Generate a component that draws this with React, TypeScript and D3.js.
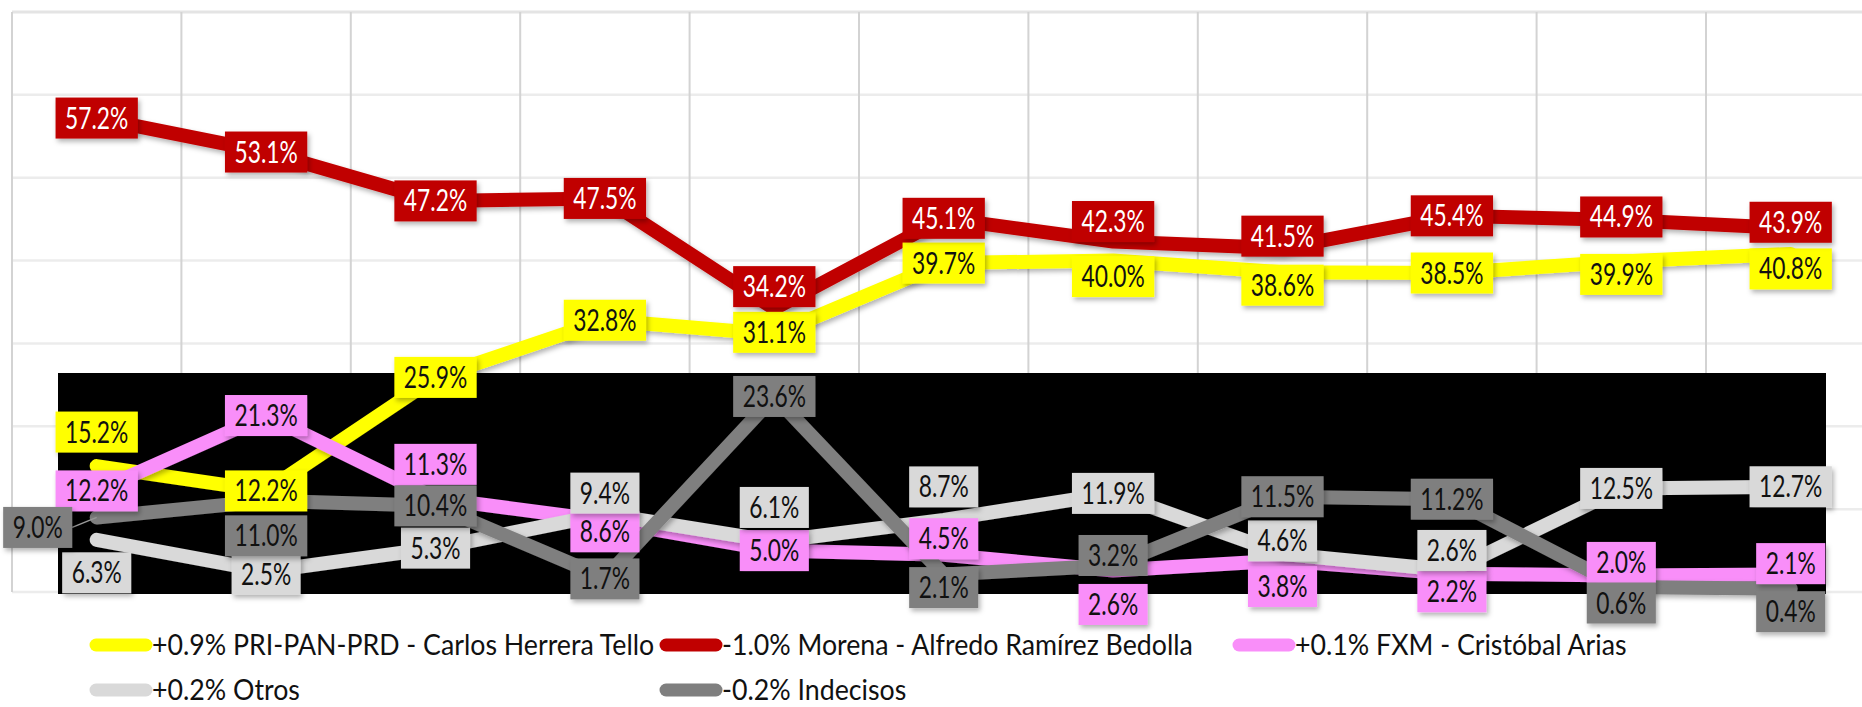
import React, { useEffect, useRef } from "react";
import * as d3 from "d3";

// ---- data ----
const categories = ["E1", "E2", "E3", "E4", "E5", "E6", "E7", "E8", "E9", "E10", "E11"];
const priPanPrd = [15.2, 12.2, 25.9, 32.8, 31.1, 39.7, 40.0, 38.6, 38.5, 39.9, 40.8];
const morena = [57.2, 53.1, 47.2, 47.5, 34.2, 45.1, 42.3, 41.5, 45.4, 44.9, 43.9];
const fxm = [12.2, 21.3, 11.3, 8.6, 5.0, 4.5, 2.6, 3.8, 2.2, 2.0, 2.1];
const otros = [6.3, 2.5, 5.3, 9.4, 6.1, 8.7, 11.9, 4.6, 2.6, 12.5, 12.7];
const indecisos = [9.0, 11.0, 10.4, 1.7, 23.6, 2.1, 3.2, 11.5, 11.2, 0.6, 0.4];
const seriesNames = [
  "PRI-PAN-PRD - Carlos Herrera Tello",
  "Morena - Alfredo Ramírez Bedolla",
  "FXM - Cristóbal Arias",
  "Otros",
  "Indecisos",
];
const seriesChanges = ["+0.9%", "-1.0%", "+0.1%", "+0.2%", "-0.2%"];
const yTicks = [0, 10, 20, 30, 40, 50, 60, 70];

// ---- layout / style (not data) ----
const W = 1862;
const H = 707;
const PLOT_LEFT = 12;
const BAND = 169.4;
const PLOT_TOP = 12;
const PLOT_BOTTOM = 592;

const colors = ["#ffff00", "#c00000", "#f98ef9", "#d9d9d9", "#7f7f7f"];
const labelTextColors = ["#111", "#fff", "#111", "#111", "#111"];
// vertical nudges of the data labels (px) as placed in the original chart
const labelNudgeY = [
  [-34, 0, 0, 0, -2, 0, 16, 13, 0, 13, 15],
  [0, 0, 0, 0, -22, 0, -20, -12, 0, -3, -6],
  [0, 0, -34, 11, 0, -16, 34, 26, 18, -13, -11],
  [33, 3, 0, -21, -34, -33, 0, -13, -20, 0, 0],
  [10, 35, 0, 1, 0, 13, -10, 0, 0, 16, 23],
];
const labelNudgeX = [
  [0, 0, 0, 0, 0, 0, 0, 0, 0, 0, 0],
  [0, 0, 0, 0, 0, 0, 0, 0, 0, 0, 0],
  [0, 0, 0, 0, 0, 0, 0, 0, 0, 0, 0],
  [0, 0, 0, 0, 0, 0, 0, 0, 0, 0, 0],
  [-59, 0, 0, 0, 0, 0, 0, 0, 0, 0, 0],
];

const FONT = "Lato, 'Open Sans', 'DejaVu Sans', sans-serif";
const SX = 0.76;
const LABEL_FS = 30;

export default function App() {
  const ref = useRef<SVGSVGElement | null>(null);

  useEffect(() => {
    document.body.style.margin = "0";
    const svg = d3.select(ref.current);
    svg.selectAll("*").remove();

    const series = [priPanPrd, morena, fxm, otros, indecisos];

    const x = d3
      .scaleBand<string>()
      .domain(categories)
      .range([PLOT_LEFT, PLOT_LEFT + BAND * categories.length]);
    const y = d3.scaleLinear().domain([0, 70]).range([PLOT_BOTTOM, PLOT_TOP]);
    const cx = (c: string) => (x(c) as number) + x.bandwidth() / 2;

    const defs = svg.append("defs");
    const f = defs
      .append("filter")
      .attr("id", "sh")
      .attr("x", "-20%")
      .attr("y", "-50%")
      .attr("width", "140%")
      .attr("height", "200%");
    f.append("feDropShadow")
      .attr("dx", 2)
      .attr("dy", 3)
      .attr("stdDeviation", 2.5)
      .attr("flood-color", "#000")
      .attr("flood-opacity", 0.3);

    svg.append("rect").attr("width", W).attr("height", H).attr("fill", "#fff");

    // gridlines
    const g = svg.append("g");
    g.selectAll("line.h")
      .data(yTicks)
      .join("line")
      .attr("x1", PLOT_LEFT)
      .attr("x2", W)
      .attr("y1", (d) => y(d))
      .attr("y2", (d) => y(d))
      .attr("stroke", (d) => (d === 70 ? "#e4e4e4" : "#ececec"))
      .attr("stroke-width", (d) => (d === 70 ? 3 : 2.5));
    const vlines = categories.map((c) => x(c) as number).concat([x.range()[1]]);
    g.selectAll("line.v")
      .data(vlines)
      .join("line")
      .attr("x1", (d) => d)
      .attr("x2", (d) => d)
      .attr("y1", PLOT_TOP)
      .attr("y2", PLOT_BOTTOM)
      .attr("stroke", "#d3d3d3")
      .attr("stroke-width", 2);

    // black overlay block
    svg
      .append("rect")
      .attr("x", 58)
      .attr("y", 373)
      .attr("width", 1826 - 58)
      .attr("height", 594 - 373)
      .attr("fill", "#000");

    // lines
    const line = d3
      .line<number>()
      .x((_, i) => cx(categories[i]))
      .y((d) => y(d));
    series.forEach((s, si) => {
      svg
        .append("path")
        .attr("d", line(s) as string)
        .attr("fill", "none")
        .attr("stroke", colors[si])
        .attr("stroke-width", 14)
        .attr("stroke-linecap", "round")
        .attr("stroke-linejoin", "round")
        .attr("filter", "url(#sh)");
    });

    // data labels
    const labelsG = svg.append("g");
    series.forEach((s, si) => {
      s.forEach((v, i) => {
        const px = cx(categories[i]);
        const py = y(v);
        const lx = px + labelNudgeX[si][i];
        const ly = py + labelNudgeY[si][i];
        const grp = labelsG.append("g");
        const rect = grp.append("rect");
        const t = grp
          .append("text")
          .attr("transform", `translate(${lx},${ly + 10.5}) scale(${SX},1)`)
          .attr("text-anchor", "middle")
          .attr("font-family", FONT)
          .attr("font-size", LABEL_FS)
          .attr("fill", labelTextColors[si])
          .text(`${v.toFixed(1)}%`);
        const tw = (t.node() as SVGTextElement).getComputedTextLength() * SX;
        const bw = tw + 19;
        rect
          .attr("x", lx - bw / 2)
          .attr("y", ly - 20.5)
          .attr("width", bw)
          .attr("height", 41)
          .attr("fill", colors[si])
          .attr("filter", "url(#sh)");
        if (Math.abs(labelNudgeX[si][i]) > 0) {
          svg
            .insert("line", "g:last-of-type")
            .attr("x1", lx + bw / 2)
            .attr("y1", ly)
            .attr("x2", px)
            .attr("y2", py)
            .attr("stroke", "#9a9a9a")
            .attr("stroke-width", 1.5);
        }
      });
    });

    // legend
    const legendPos = [
      [90, 645],
      [660, 645],
      [1233, 645],
      [90, 690],
      [660, 690],
    ];
    const lg = svg.append("g");
    seriesNames.forEach((name, si) => {
      const [lx, ly] = legendPos[si];
      lg.append("line")
        .attr("x1", lx + 6)
        .attr("x2", lx + 56)
        .attr("y1", ly)
        .attr("y2", ly)
        .attr("stroke", colors[si])
        .attr("stroke-width", 13)
        .attr("stroke-linecap", "round");
      lg.append("text")
        .attr("transform", `translate(${lx + 62},${ly + 10}) scale(0.955,1)`)
        .attr("font-family", FONT)
        .attr("font-size", 28)
        .attr("fill", "#111")
        .text(`${seriesChanges[si]} ${name}`);
    });
  }, []);

  return (
    <div style={{ position: "absolute", left: 0, top: 0, width: W, height: H, overflow: "hidden" }}>
      <svg ref={ref} width={W} height={H} style={{ display: "block" }} />
    </div>
  );
}
